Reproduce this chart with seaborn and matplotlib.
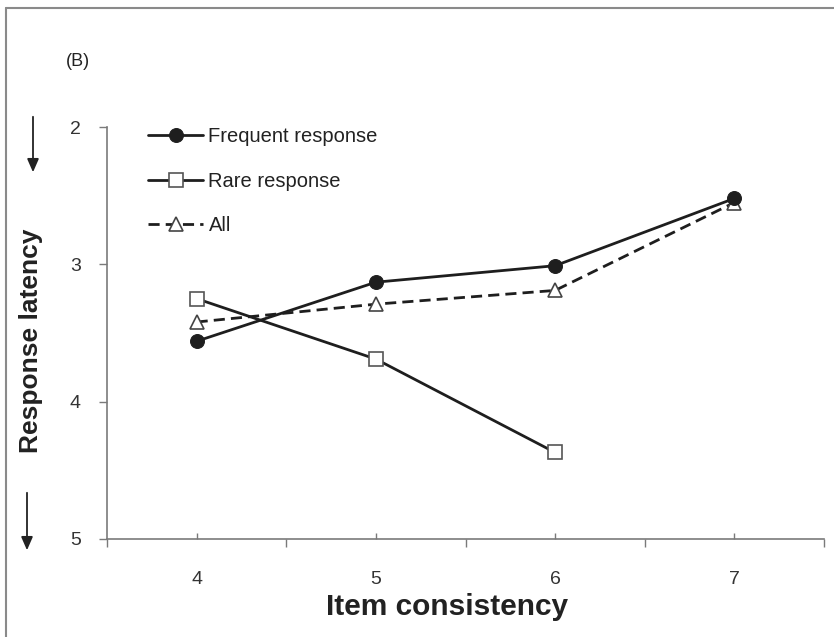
import matplotlib
matplotlib.use("Agg")
import matplotlib.pyplot as plt
import seaborn as sns
import pandas as pd
import numpy as np

# ---- data ----
consistency = [4, 5, 6, 7]
frequent = [3.56, 3.13, 3.01, 2.52]
rare = [3.25, 3.69, 4.37, np.nan]
all_resp = [3.42, 3.29, 3.19, 2.55]
series_names = ["Frequent response", "Rare response", "All"]
y_ticks = [2, 3, 4, 5]

sns.set_theme(style="white")
plt.rcParams["font.family"] = ["Liberation Sans", "DejaVu Sans"]

fig = plt.figure(figsize=(8.34, 6.37), dpi=100)
ax = fig.add_axes([107/834, 1-539/637, 717/834, 412/637])

dark = "#1e1e1e"
df = pd.DataFrame({"x": consistency * 3,
                   "y": frequent + rare + all_resp,
                   "s": sum([[n] * 4 for n in series_names], [])}).dropna()

styles = {
    "Frequent response": dict(marker="o", markersize=10, markerfacecolor=dark,
                              markeredgecolor=dark, linestyle="-"),
    "Rare response": dict(marker="s", markersize=10, markerfacecolor="white",
                          markeredgecolor="#555555", markeredgewidth=1.2, linestyle="-"),
    "All": dict(marker="^", markersize=10, markerfacecolor="white",
                markeredgecolor="#444444", markeredgewidth=1.2, linestyle=(0, (4, 2.2))),
}
for name in ["All", "Rare response", "Frequent response"]:
    sub = df[df.s == name]
    sns.lineplot(data=sub, x="x", y="y", ax=ax, color=dark, linewidth=2.0,
                 label=name, **styles[name])

ax.set_xlim(3.5, 7.5)
ax.set_ylim(5, 2)
ax.set_yticks(y_ticks)
ax.set_yticklabels([str(v) for v in y_ticks])
ax.set_xticks(consistency)
ax.set_xticklabels([str(v) for v in consistency])
ax.set_xticks([3.5, 4.5, 5.5, 6.5, 7.5], minor=True)

for sp in ["top", "right"]:
    ax.spines[sp].set_visible(False)
for sp in ["left", "bottom"]:
    ax.spines[sp].set_color("#7a7a7a")
    ax.spines[sp].set_linewidth(1.2)

ax.tick_params(axis="x", which="major", direction="in", length=4, width=1,
               color="#7a7a7a", labelsize=14, labelcolor="#333333", pad=23, bottom=True)
ax.tick_params(axis="x", which="minor", direction="out", length=6, width=1,
               color="#7a7a7a", bottom=True)
ax.tick_params(axis="y", which="major", direction="out", length=6, width=1,
               color="#7a7a7a", labelsize=14, labelcolor="#333333", pad=13, left=True)

ax.set_xlabel("Item consistency", fontsize=21.5, fontweight="bold", color="#222222")
ax.set_ylabel("Response latency", fontsize=19, fontweight="bold", color="#222222")
ax.xaxis.set_label_coords((447-107)/717, (539-607)/412)
ax.xaxis.label.set_va("center")
ax.yaxis.set_label_coords((31-107)/717, (539-341)/412)
ax.yaxis.label.set_va("center")

handles, labels = ax.get_legend_handles_labels()
order = [labels.index(n) for n in series_names]
leg = ax.legend([handles[i] for i in order], [labels[i] for i in order],
                loc="upper left", bbox_to_anchor=(0.046, 1.019), frameon=False,
                fontsize=14.5, handlelength=2.75, handletextpad=0.25,
                labelspacing=1.27, borderaxespad=0, markerscale=1.0)
for t in leg.get_texts():
    t.set_color("#222222")

fig.text(78/834, 1-62/637, "(B)", fontsize=13, ha="center", va="center", color="#222222")

# arrows
for x0, y0, y1 in [(33, 114, 175), (27, 490, 553)]:
    fig.patches.append(matplotlib.patches.FancyArrowPatch(
        (x0/834, 1-y0/637), (x0/834, 1-y1/637), transform=fig.transFigure,
        arrowstyle="-|>,head_length=8,head_width=3.5", color="#222222", linewidth=1.3,
        mutation_scale=1))

# frame lines (top and left)
fig.add_artist(matplotlib.lines.Line2D([6/834, 6/834], [0, 1-8/637],
                                       transform=fig.transFigure, color="#8a8a8a", linewidth=1.5))
fig.add_artist(matplotlib.lines.Line2D([6/834, 1], [1-8/637, 1-8/637],
                                       transform=fig.transFigure, color="#8a8a8a", linewidth=1.5))

fig.savefig("out.png", dpi=100)
